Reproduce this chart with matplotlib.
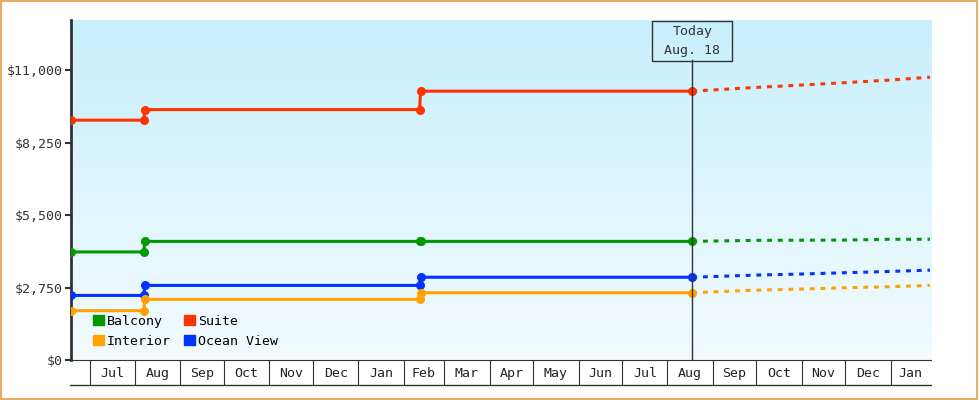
import numpy as np
import pandas as pd
import matplotlib
matplotlib.use("Agg")
import matplotlib.pyplot as plt
import matplotlib.dates as mdates
import matplotlib.ticker as mticker
from matplotlib.patches import Patch, Rectangle
from matplotlib.lines import Line2D

# price history (points where the fare changed) and forecast after today
hist_dates = pd.to_datetime(["2017-06-18 00:00", "2017-08-07 00:00", "2017-08-07 12:00",
                             "2018-02-12 00:00", "2018-02-12 18:00", "2018-08-18 00:00"])
fc_dates = pd.to_datetime(["2018-08-18", "2018-09-30", "2018-10-31",
                           "2018-11-30", "2018-12-31", "2019-01-28"])

suite_hist = [9100, 9100, 9500, 9500, 10200, 10200]
balcony_hist = [4100, 4100, 4500, 4500, 4500, 4500]
ocean_hist = [2450, 2450, 2830, 2830, 3140, 3140]
interior_hist = [1870, 1870, 2300, 2300, 2550, 2550]

suite_fc = [10200, 10340, 10430, 10520, 10620, 10730]
balcony_fc = [4500, 4540, 4545, 4550, 4580, 4580]
ocean_fc = [3140, 3220, 3260, 3310, 3360, 3410]
interior_fc = [2550, 2650, 2690, 2740, 2780, 2830]

today = pd.Timestamp("2018-08-18")
x_start = pd.Timestamp("2017-06-18")
x_end = pd.Timestamp("2019-01-28 17:00")
y_max = 12900
y_ticks = [0, 2750, 5500, 8250, 11000]

C_SUITE = "#ff3300"
C_BALCONY = "#009900"
C_OCEAN = "#0033ff"
C_INTERIOR = "#ffa200"
DARK = "#333333"
FONT = "DejaVu Sans Mono"
FS = 9.5

plt.rcParams['font.family'] = [FONT]

fig = plt.figure(figsize=(9.8, 4), dpi=100)
ax = fig.add_axes([71/980, 40/400, 860/980, 340/400])

# gradient background
grad = np.linspace(0, 1, 256).reshape(-1, 1)
top = np.array([200, 239, 252]) / 255
bot = np.array([243, 251, 255]) / 255
img = top[None, None, :] * (1 - grad[:, :, None]) + bot[None, None, :] * grad[:, :, None]
ax.imshow(img, extent=[0, 1, 0, 1], transform=ax.transAxes, aspect='auto', zorder=0)

series = [
    (suite_hist, suite_fc, C_SUITE),
    (balcony_hist, balcony_fc, C_BALCONY),
    (ocean_hist, ocean_fc, C_OCEAN),
    (interior_hist, interior_fc, C_INTERIOR),
]
for hist, fc, col in series:
    ax.plot(fc_dates, fc, color=col, lw=2.2, ls=(0, (1.6, 1.9)), zorder=3,
            solid_capstyle='butt', dash_capstyle='butt')
    ax.plot(hist_dates, hist, color=col, lw=2.2, marker='o', ms=5.5, zorder=4)

# today marker
ax.axvline(today, ymax=300/340, color=DARK, lw=1, zorder=5)
ax.text(today, 1 - 21/340, "Today\n Aug. 18 ", transform=ax.get_xaxis_transform(),
        ha='center', va='center', multialignment='center', fontsize=FS,
        color=DARK, linespacing=1.55, zorder=6,
        bbox=dict(boxstyle='square,pad=0.3', fc='none', ec=DARK, lw=1))

ax.set_xlim(x_start, x_end)
ax.set_ylim(0, y_max)

# y axis
ax.set_yticks(y_ticks)
ax.yaxis.set_major_formatter(mticker.FuncFormatter(lambda v, p: "${:,.0f}".format(v)))
ax.tick_params(axis='y', length=4, width=1.5, color=DARK, labelcolor=DARK,
               labelsize=FS, pad=2)

# x axis: month cells
ax.xaxis.set_major_locator(mdates.MonthLocator())
ax.xaxis.set_major_formatter(mticker.NullFormatter())
month_starts = pd.date_range("2017-07-01", "2019-01-01", freq="MS")
mids = []
for i, m in enumerate(month_starts):
    nxt = month_starts[i + 1] if i + 1 < len(month_starts) else x_end
    mids.append(m + (nxt - m) / 2)
ax.xaxis.set_minor_locator(mticker.FixedLocator(mdates.date2num(mids)))
ax.xaxis.set_minor_formatter(mticker.FixedFormatter([m.strftime("%b") for m in month_starts]))
ax.tick_params(axis='x', which='major', length=18, width=0.8, color=DARK)
ax.tick_params(axis='x', which='minor', length=0, pad=5, labelsize=FS, labelcolor="#222222")
ax.add_line(Line2D([-1/860, 1], [-25/340, -25/340], transform=ax.transAxes,
                   color=DARK, lw=1, clip_on=False))

for s in ['top', 'right']:
    ax.spines[s].set_visible(False)
ax.spines['left'].set_linewidth(2)
ax.spines['left'].set_color(DARK)
ax.spines['bottom'].set_linewidth(0.8)
ax.spines['bottom'].set_color(DARK)

# legend
handles = [Patch(color=C_BALCONY, label="Balcony"),
           Patch(color=C_INTERIOR, label="Interior"),
           Patch(color=C_SUITE, label="Suite"),
           Patch(color=C_OCEAN, label="Ocean View")]
ax.legend(handles=handles, ncol=2, loc='lower left', bbox_to_anchor=(22/860, 12/340),
          frameon=False, fontsize=FS, handlelength=0.8, handleheight=0.8,
          handletextpad=0.25, columnspacing=1.0, labelspacing=0.55,
          borderaxespad=0, borderpad=0)

# outer border
fig.patches.append(Rectangle((0.001, 0.0025), 0.996, 0.994, transform=fig.transFigure,
                             fill=False, ec="#e8aa64", lw=1.5))

fig.savefig("out.png", dpi=100)
